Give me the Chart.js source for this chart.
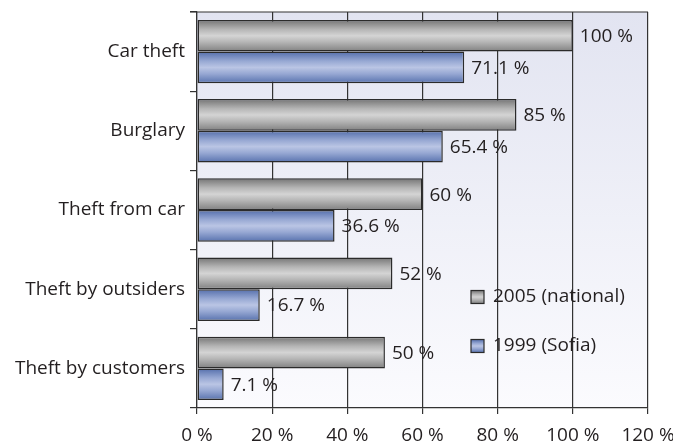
<!DOCTYPE html>
<html>
<head>
<meta charset="utf-8">
<script src="https://cdn.jsdelivr.net/npm/chart.js@4/dist/chart.umd.min.js"></script>
<style>
    html, body { margin: 0; padding: 0; background: #fff; }
    #wrap { width: 673px; height: 446px; }
</style>
</head>
<body>
<div id="wrap"><canvas id="myChart" width="673" height="446"></canvas></div>
<script>
const categories = ['Car theft', 'Burglary', 'Theft from car', 'Theft by outsiders', 'Theft by customers'];
const national2005 = [100, 85, 60, 52, 50];
const sofia1999 = [71.1, 65.4, 36.6, 16.7, 7.1];
const seriesNames = ['2005 (national)', '1999 (Sofia)'];
const xTickLabels = ['0 %', '20 %', '40 %', '60 %', '80 %', '100 %', '120 %'];

const FONT = '"Open Sans", sans-serif';
const TEXT = '#231f20';
const CAT_PCT = 0.8;
const BAR_PCT = 1.0;

// gradient stops, dark edges and light middle
const grayStops = ['#747474', '#b5b5b5', '#d4d4d4', '#b5b5b5', '#808080'];
const blueStops = ['#546eab', '#97a8d3', '#bac5e4', '#97a8d3', '#5872ae'];

function makeGrad(ctx, top, bottom, stops) {
    const g = ctx.createLinearGradient(0, top, 0, bottom);
    g.addColorStop(0, stops[0]);
    g.addColorStop(0.3, stops[1]);
    g.addColorStop(0.5, stops[2]);
    g.addColorStop(0.7, stops[3]);
    g.addColorStop(1, stops[4]);
    return g;
}

// works out where the bar sits from the category scale
function barFill(stops) {
    return function(c) {
        const ys = c.chart.scales.y;
        if (!ys || !isFinite(ys.height) || ys.height <= 0 || c.dataIndex === undefined) return stops[2];
        const center = ys.getPixelForValue(c.dataIndex);
        const w = ys.height / categories.length;
        const slot = w * CAT_PCT / 2;
        const top = center - w * CAT_PCT / 2 + slot * c.datasetIndex + slot * (1 - BAR_PCT) / 2;
        if (!isFinite(top)) return stops[2];
        return makeGrad(c.chart.ctx, top, top + slot * BAR_PCT, stops);
    };
}

const plotBackground = {
    id: 'plotBackground',
    beforeDraw(chart) {
        const {ctx, chartArea: a} = chart;
        const g = ctx.createLinearGradient(0, a.top, 0, a.bottom);
        g.addColorStop(0, '#e2e4f1');
        g.addColorStop(1, '#fbfbfe');
        ctx.save();
        ctx.fillStyle = g;
        ctx.fillRect(a.left, a.top, a.right - a.left, a.bottom - a.top);
        ctx.restore();
    },
    afterDraw(chart) {
        const {ctx, chartArea: a} = chart;
        ctx.save();
        ctx.strokeStyle = '#333';
        ctx.lineWidth = 1.2;
        ctx.beginPath();
        ctx.moveTo(a.left - 7, a.top);
        ctx.lineTo(a.right, a.top);
        ctx.stroke();
        ctx.restore();
    }
};

const valueLabels = {
    id: 'valueLabels',
    afterDatasetsDraw(chart) {
        const ctx = chart.ctx;
        ctx.save();
        ctx.font = '19px ' + FONT;
        ctx.fillStyle = TEXT;
        ctx.textBaseline = 'middle';
        ctx.textAlign = 'left';
        chart.data.datasets.forEach((ds, di) => {
            chart.getDatasetMeta(di).data.forEach((bar, i) => {
                ctx.fillText(ds.data[i] + ' %', bar.x + 7, bar.y + 1);
            });
        });
        ctx.restore();
    }
};

const insideLegend = {
    id: 'insideLegend',
    afterDraw(chart) {
        const ctx = chart.ctx;
        const x = 471, ys = [297, 346];
        ctx.save();
        ctx.font = '19px ' + FONT;
        ctx.fillStyle = TEXT;
        ctx.textBaseline = 'middle';
        [grayStops, blueStops].forEach((stops, i) => {
            const y = ys[i];
            ctx.fillStyle = makeGrad(ctx, y - 6.5, y + 6.5, stops);
            ctx.fillRect(x, y - 6.5, 13, 13);
            ctx.strokeStyle = '#2b2b2b';
            ctx.lineWidth = 1.2;
            ctx.strokeRect(x, y - 6.5, 13, 13);
            ctx.fillStyle = TEXT;
            ctx.fillText(seriesNames[i], x + 22, y);
        });
        ctx.restore();
    }
};

const ctx = document.getElementById('myChart').getContext('2d');

const chart = new Chart(ctx, {
    type: 'bar',
    data: {
        labels: categories,
        datasets: [{
            label: seriesNames[0],
            data: national2005,
            backgroundColor: barFill(grayStops),
            borderColor: '#2b2b2b',
            borderWidth: 1.5,
            borderSkipped: false
        }, {
            label: seriesNames[1],
            data: sofia1999,
            backgroundColor: barFill(blueStops),
            borderColor: '#2b2b2b',
            borderWidth: 1.5,
            borderSkipped: false
        }]
    },
    options: {
        indexAxis: 'y',
        responsive: false,
        animation: false,
        categoryPercentage: CAT_PCT,
        barPercentage: BAR_PCT,
        layout: {
            padding: { left: 0, right: 25, top: 12, bottom: 0 }
        },
        scales: {
            x: {
                min: 0,
                max: 120,
                afterFit(scale) {
                    scale.height = 38;
                    scale.paddingLeft = 0;
                    scale.paddingRight = 0;
                },
                ticks: {
                    stepSize: 20,
                    padding: 10,
                    color: TEXT,
                    font: { family: FONT, size: 19 },
                    callback: (v, i) => xTickLabels[i]
                },
                grid: {
                    color: '#333',
                    lineWidth: 1.2,
                    tickLength: 6
                },
                border: { color: '#333', width: 1.2 }
            },
            y: {
                afterFit(scale) {
                    scale.width = 197;
                    scale.paddingTop = 0;
                    scale.paddingBottom = 0;
                },
                ticks: {
                    padding: 5,
                    color: TEXT,
                    font: { family: FONT, size: 19 }
                },
                grid: {
                    drawOnChartArea: false,
                    color: '#333',
                    lineWidth: 1.2,
                    tickLength: 7
                },
                border: { color: '#333', width: 1.2 }
            }
        },
        plugins: {
            legend: { display: false },
            tooltip: { enabled: false }
        }
    },
    plugins: [plotBackground, valueLabels, insideLegend]
});
// second pass so the bar gradients use the final scale size
chart.update();
</script>
</body>
</html>
